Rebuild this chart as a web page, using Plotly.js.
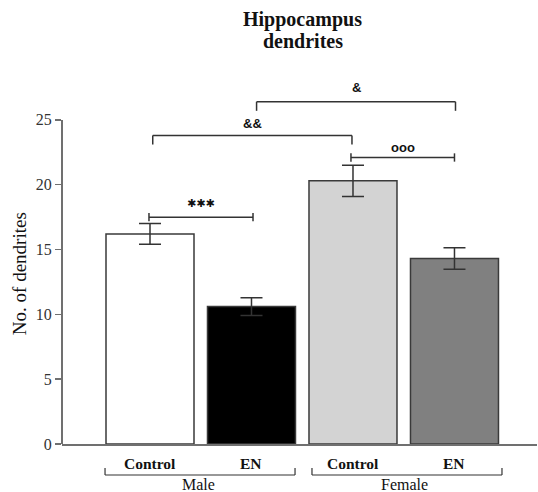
<!DOCTYPE html>
<html>
<head>
<meta charset="utf-8">
<script src="https://cdn.plot.ly/plotly-3.0.1.min.js"></script>
<style>html,body{margin:0;padding:0;background:#fff;}#chart{width:538px;height:492px;}</style>
</head>
<body>
<div id="chart"></div>
<script>
// ---- data ----
const conditions = ['Control', 'EN', 'Control', 'EN'];
const groups = ['Male', 'Female'];
const means = [16.2, 10.6, 20.3, 14.3];
const sems = [0.8, 0.68, 1.2, 0.83];
const yTicks = [0, 5, 10, 15, 20, 25];
// comparisons: [from bar, to bar, bracket height, label, style]
const compFrom = [0, 0, 2, 1];
const compTo = [1, 2, 3, 3];
const compY = [17.5, 23.8, 22.1, 26.4];
const compLabel = ['✱✱✱', '&&', 'ooo', '&'];
const compStyle = ['cap', 'down', 'cap', 'down'];

// ---- styles ----
const barColors = ['#ffffff', '#000000', '#d3d3d3', '#808080'];
const serif = 'Liberation Serif, Times New Roman, serif';
const sans = 'Liberation Sans, Arial, sans-serif';
const axisCol = '#707070';
const labelShift = [14, 12, 10, 14];
const labelSize = [11, 13, 13, 13];

const xIdx = conditions.map((_, i) => i);

const trace = {
  type: 'bar',
  x: xIdx,
  y: means,
  width: 0.867,
  marker: { color: barColors, line: { color: '#3a3a3a', width: 1.5 } },
  error_y: { type: 'data', array: sems, visible: true, color: '#333', thickness: 1.5, width: 11 },
  hoverinfo: 'none'
};

const shapes = [];
const annotations = [];

// y-axis line only up to 25
shapes.push({ type: 'line', xref: 'paper', yref: 'y', x0: 0, x1: 0, y0: 0, y1: yTicks[yTicks.length - 1],
  line: { color: axisCol, width: 2 } });

// significance brackets
const offs = [[-0.01, 0.015], [0.027, -0.01], [-0.02, 0.0], [0.05, 0.01]];
for (let i = 0; i < compLabel.length; i++) {
  const x0 = compFrom[i] + offs[i][0];
  const x1 = compTo[i] + offs[i][1];
  const y = compY[i];
  const ln = { color: '#333', width: 1.5 };
  shapes.push({ type: 'line', xref: 'x', yref: 'y', x0: x0, x1: x1, y0: y, y1: y, line: ln });
  if (compStyle[i] === 'cap') {
    shapes.push({ type: 'line', xref: 'x', yref: 'y', x0: x0, x1: x0, y0: y - 0.32, y1: y + 0.32, line: ln });
    shapes.push({ type: 'line', xref: 'x', yref: 'y', x0: x1, x1: x1, y0: y - 0.32, y1: y + 0.32, line: ln });
  } else {
    shapes.push({ type: 'line', xref: 'x', yref: 'y', x0: x0, x1: x0, y0: y - 0.7, y1: y, line: ln });
    shapes.push({ type: 'line', xref: 'x', yref: 'y', x0: x1, x1: x1, y0: y - 0.7, y1: y, line: ln });
  }
  const isStar = i === 0;
  annotations.push({ xref: 'x', yref: 'y', x: (x0 + x1) / 2, y: y, yshift: labelShift[i],
    text: isStar ? compLabel[i] : '<b>' + compLabel[i] + '</b>', showarrow: false, yanchor: 'middle',
    font: { family: isStar ? 'DejaVu Sans' : sans, size: labelSize[i], color: '#111' } });
}

// category labels
conditions.forEach((c, i) => {
  annotations.push({ xref: 'x', yref: 'paper', x: i, y: 0, yshift: -19, yanchor: 'middle',
    text: '<b>' + c + '</b>', showarrow: false, font: { family: serif, size: 15.5, color: '#111' } });
});

// group brackets
const grpX0 = [-0.443, 1.596];
const grpX1 = [1.429, 3.468];
const pxToPaper = 1 / 363;
groups.forEach((g, k) => {
  const yb = -31 * pxToPaper, yt = -24 * pxToPaper;
  const ln = { color: '#333', width: 1.2 };
  shapes.push({ type: 'line', xref: 'x', yref: 'paper', x0: grpX0[k], x1: grpX1[k], y0: yb, y1: yb, line: ln });
  shapes.push({ type: 'line', xref: 'x', yref: 'paper', x0: grpX0[k], x1: grpX0[k], y0: yb, y1: yt, line: ln });
  shapes.push({ type: 'line', xref: 'x', yref: 'paper', x0: grpX1[k], x1: grpX1[k], y0: yb, y1: yt, line: ln });
  annotations.push({ xref: 'x', yref: 'paper', x: (grpX0[k] + grpX1[k]) / 2 - 0.02, y: yb, yshift: -9, yanchor: 'middle',
    text: g, showarrow: false, font: { family: serif, size: 16, color: '#111' } });
});

// y axis title
annotations.push({ xref: 'paper', yref: 'y', x: 0, xshift: -43, y: 13.1, textangle: -90,
  text: 'No. of dendrites', showarrow: false, xanchor: 'center', yanchor: 'middle',
  font: { family: serif, size: 19, color: '#111' } });

// title (two lines)
annotations.push({ xref: 'paper', yref: 'paper', x: 0.5, xshift: 3, y: 1, yshift: 62, yanchor: 'middle',
  text: '<b>Hippocampus</b>', showarrow: false, font: { family: serif, size: 20, color: '#111' } });
annotations.push({ xref: 'paper', yref: 'paper', x: 0.5, xshift: 3, y: 1, yshift: 40, yanchor: 'middle',
  text: '<b>dendrites</b>', showarrow: false, font: { family: serif, size: 20, color: '#111' } });

const layout = {
  width: 538, height: 492,
  margin: { l: 62, r: 1, t: 81, b: 48 },
  paper_bgcolor: '#fff', plot_bgcolor: '#fff',
  showlegend: false,
  xaxis: { range: [-0.867, 3.813], showticklabels: false, ticks: '', showgrid: false, zeroline: false,
    showline: true, linecolor: axisCol, linewidth: 2, fixedrange: true },
  yaxis: { range: [0, 28], tickvals: yTicks, ticks: 'outside', ticklen: 6, tickwidth: 1.5, tickcolor: axisCol,
    showgrid: false, zeroline: false, showline: false, tickfont: { family: serif, size: 16, color: '#333' },
    fixedrange: true },
  shapes: shapes,
  annotations: annotations
};

Plotly.newPlot('chart', [trace], layout, { displayModeBar: false, staticPlot: true });
</script>
</body>
</html>
